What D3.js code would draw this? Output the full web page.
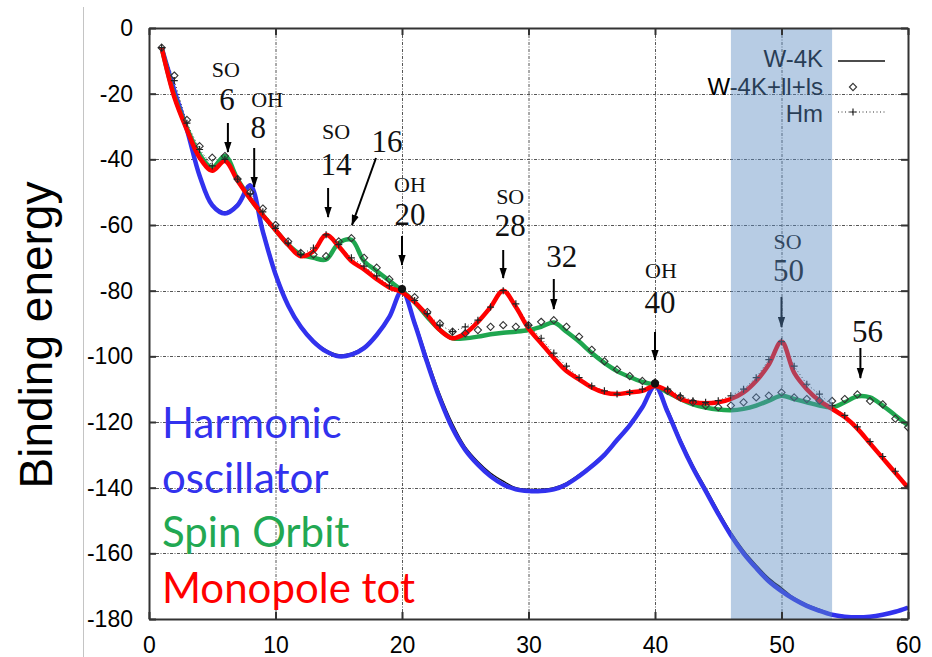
<!DOCTYPE html>
<html><head><meta charset="utf-8">
<script src="https://cdn.jsdelivr.net/npm/d3@7"></script>
<style>body{margin:0;background:#fff}</style>
</head><body>
<svg id="chart" width="932" height="657"></svg>
<script>
// ---------------- data ----------------
const nucleons = d3.range(1, 61);
const harmonic = [-6,-19,-31,-45,-54,-56.5,-54,-48,-62,-75,
  -84.5,-91,-95.5,-98.5,-100,-99.5,-97.5,-93.5,-88,-80,
  -90,-102,-113,-122,-128.5,-133,-136.5,-139,-140.5,-141,
  -141,-140.5,-139,-136.5,-133.5,-130,-125.5,-121,-115.5,-109,
  -117,-126,-134,-141,-148,-154.5,-160,-164.5,-168.5,-171.5,
  -174,-176,-177.5,-178.7,-179.3,-179.5,-179.3,-178.7,-177.8,-176.5];
const w4k = [-6,-18.5,-30.5,-44.5,-53.5,-56,-53.5,-47.5,-61,-74,
  -84,-90.5,-95,-98,-99.5,-99,-97,-93,-87.5,-79.5,
  -89,-100.5,-111.5,-120.5,-127.5,-132,-135.5,-138,-140,-140.5,
  -140.5,-140,-138.5,-136,-133,-129.5,-125,-120.5,-115,-108.5,
  -116,-125,-133,-140,-147,-153.5,-159,-163.5,-167.5,-170.5,
  -173.5,-175.5,-177,-178.5,-179,-179.3,-179.2,-178.6,-177.7,-176.4];
const spinOrbit = [-6,-20.5,-30.5,-38.5,-42.5,-39,-46,-52,-57,-61.5,
  -66,-69,-70,-70.5,-65.5,-64.5,-71,-74,-77,-80,
  -83.5,-88,-92,-94.5,-94.5,-94,-93.3,-92.8,-92.5,-92,
  -91,-89.7,-92.5,-95.5,-99,-102,-104.5,-106.3,-107.8,-108.8,
  -111,-113,-114.6,-115.6,-116.2,-116.4,-116,-115,-113.5,-112,
  -113,-114,-115,-115.5,-114,-112.2,-112.5,-115,-118,-121];
const monopole = [-6,-21,-31,-39.5,-43.5,-40.5,-46.5,-52,-57,-61.5,
  -66,-69.5,-68,-63,-66.5,-71,-73.5,-76.5,-79,-80.5,
  -83.5,-87.5,-92,-94.5,-93,-89.5,-85,-80,-85,-91.5,
  -96,-100.5,-104.5,-107,-109.5,-111,-111.5,-111,-110.5,-109,
  -110.5,-113,-114,-114.3,-114,-113,-111,-107.5,-102.5,-95.5,
  -105,-110,-113.5,-116,-118.5,-122,-126.5,-131,-135.5,-140];
const w4kLlLs = [-6,-14.5,-28,-36,-39.5,-39,-46,-50,-55,-60,
  -65,-68.5,-69,-69.5,-65,-64,-70,-73,-76.5,-79.5,
  -82,-86.5,-90,-92.5,-93,-92,-91,-90.5,-91,-90.5,
  -89.5,-89,-91,-94,-98,-101.5,-104,-106,-107.5,-108,
  -110.5,-112.5,-114,-115,-115.5,-115,-114,-112.5,-112,-111,
  -112.5,-113,-113.5,-113.6,-113,-111.6,-113.6,-114.6,-119,-121.6];
const hm = [-6,-16,-29,-37,-42,-40,-46,-50.5,-56,-61,
  -65.5,-69,-67,-63,-66,-70,-72.5,-75.5,-78.5,-79.5,
  -83,-87,-90.5,-92.5,-91,-89,-85,-80,-84,-90.5,
  -94.5,-99,-103,-106.5,-109,-110.5,-111.5,-111,-110,-108.5,
  -110,-112,-113.5,-114,-113.5,-112,-110,-106.5,-101,-95.5,
  -103,-108.5,-111.5,-115,-118,-121.5,-126,-130.5,-135,-139.5];
const magicDots = [20, 40];
const magicDotValues = [-79.5, -108.3];
const xTicks = [0, 10, 20, 30, 40, 50, 60];
const yTicks = [0, -20, -40, -60, -80, -100, -120, -140, -160, -180];
const bandRange = [46, 54];
const legendLabels = ["W-4K", "W-4K+ll+ls", "Hm"];
const modelLabels = ["Harmonic", "oscillator", "Spin Orbit", "Monopole tot"];
const axisTitle = "Binding energy";
// annotation text + layout (pixels)
const annotations = [
  {n:6,  head:"SO", num:"6",  adx:3, tip:152, len:29, numY:110, headY:77,  ndx:2,  hdx:1},
  {n:8,  head:"OH", num:"8",  adx:4, tip:187, len:39, numY:138, headY:107, ndx:8,  hdx:17},
  {n:14, head:"SO", num:"14", adx:2, tip:217, len:29, numY:175, headY:139, ndx:10, hdx:10},
  {n:20, head:"OH", num:"20", adx:0, tip:265, len:29, numY:225, headY:192, ndx:8,  hdx:8},
  {n:28, head:"SO", num:"28", adx:0, tip:278, len:28, numY:236, headY:204, ndx:7,  hdx:7},
  {n:32, head:"",   num:"32", adx:0, tip:309, len:30, numY:267, headY:0,   ndx:8,  hdx:0},
  {n:40, head:"OH", num:"40", adx:0, tip:360, len:28, numY:313, headY:278, ndx:5,  hdx:6},
  {n:50, head:"SO", num:"50", adx:0, tip:327, len:30, numY:281, headY:249, ndx:7,  hdx:6},
  {n:56, head:"",   num:"56", adx:3, tip:378, len:30, numY:342, headY:0,   ndx:10, hdx:0}
];
const diagLabel = {num:"16", cx:387, y:152, x1:376, y1:158, x2:352, y2:225};

// ---------------- layout ----------------
const L = 149, R = 908, T = 28, B = 619;
const svg = d3.select("#chart");
const x = d3.scaleLinear().domain([0, 60]).range([L, R]);
const y = d3.scaleLinear().domain([0, -180]).range([T, B]);

const COL_BLUE = "#3232ee", COL_GREEN = "#1fa64f", COL_RED = "#ff0000";

svg.append("defs").html(
  '<clipPath id="clip"><rect x="'+L+'" y="'+T+'" width="'+(R-L)+'" height="'+(B-T)+'"/></clipPath>'+
  '<marker id="ah" viewBox="0 0 12 8" refX="11" refY="4" markerWidth="11" markerHeight="8" orient="auto" markerUnits="userSpaceOnUse"><path d="M0,0 L12,4 L0,8 z" fill="#000"/></marker>');

// border line of the slide picture
svg.append("line").attr("x1", 83.5).attr("x2", 83.5).attr("y1", 7).attr("y2", 657)
  .attr("stroke", "#c4c4c4").attr("stroke-width", 1);

// grid
const grid = svg.append("g").attr("stroke", "#555").attr("stroke-width", 1)
  .attr("stroke-dasharray", "3,1.5,1,1.5");
grid.selectAll(".gx").data(xTicks.slice(1, -1)).join("line")
  .attr("x1", d => x(d) + 0.5).attr("x2", d => x(d) + 0.5).attr("y1", T).attr("y2", B);
grid.selectAll(".gy").data(yTicks.slice(1, -1)).join("line")
  .attr("y1", d => Math.round(y(d)) + 0.5).attr("y2", d => Math.round(y(d)) + 0.5).attr("x1", L).attr("x2", R);

const plot = svg.append("g").attr("clip-path", "url(#clip)");
const pts = arr => arr.map((v, i) => [nucleons[i], v]);
const lineSmooth = d3.line().x(d => x(d[0])).y(d => y(d[1])).curve(d3.curveCatmullRom.alpha(0.5));
const lineLin = d3.line().x(d => x(d[0])).y(d => y(d[1]));

// Hm dotted line
plot.append("path").attr("d", lineLin(pts(hm))).attr("fill", "none")
  .attr("stroke", "#333").attr("stroke-width", 1).attr("stroke-dasharray", "1,2.5");
// W-4K thin black
plot.append("path").attr("d", lineSmooth(pts(w4k))).attr("fill", "none")
  .attr("stroke", "#111").attr("stroke-width", 1.3);

// thick model curves
plot.append("path").attr("d", lineSmooth(pts(harmonic))).attr("fill", "none")
  .attr("stroke", COL_BLUE).attr("stroke-width", 4.5).attr("stroke-linejoin", "round");
plot.append("path").attr("d", lineSmooth(pts(spinOrbit))).attr("fill", "none")
  .attr("stroke", COL_GREEN).attr("stroke-width", 4.5).attr("stroke-linejoin", "round");
plot.append("path").attr("d", lineSmooth(pts(monopole))).attr("fill", "none")
  .attr("stroke", COL_RED).attr("stroke-width", 4.5).attr("stroke-linejoin", "round");

// markers
const diamondPath = "M0,-3.6L3.6,0L0,3.6L-3.6,0Z";
plot.selectAll(".dia").data(pts(w4kLlLs)).join("path")
  .attr("d", diamondPath).attr("transform", d => `translate(${x(d[0])},${y(d[1])})`)
  .attr("fill", "none").attr("stroke", "#333").attr("stroke-width", 1.1);
plot.selectAll(".plus").data(pts(hm)).join("path")
  .attr("d", "M-3.5,0H3.5M0,-3.5V3.5").attr("transform", d => `translate(${x(d[0])},${y(d[1])})`)
  .attr("fill", "none").attr("stroke", "#222").attr("stroke-width", 1.2);
plot.selectAll(".dot").data(magicDots.map((n, i) => [n, magicDotValues[i]])).join("circle")
  .attr("cx", d => x(d[0])).attr("cy", d => y(d[1])).attr("r", 4).attr("fill", "#111");

// annotations
const ann = svg.append("g").attr("font-family", "'Liberation Serif', 'Times New Roman', serif").attr("fill", "#111");
annotations.forEach(a => {
  const ax = x(a.n) + a.adx;
  ann.append("line").attr("x1", ax).attr("x2", ax).attr("y1", a.tip - a.len).attr("y2", a.tip)
    .attr("stroke", "#000").attr("stroke-width", 2).attr("marker-end", "url(#ah)");
  ann.append("text").attr("x", x(a.n) + a.ndx).attr("y", a.numY).attr("text-anchor", "middle")
    .attr("font-size", 31).text(a.num);
  if (a.head) ann.append("text").attr("x", x(a.n) + a.hdx).attr("y", a.headY).attr("text-anchor", "middle")
    .attr("font-size", 22).text(a.head);
});
ann.append("line").attr("x1", diagLabel.x1).attr("y1", diagLabel.y1).attr("x2", diagLabel.x2).attr("y2", diagLabel.y2)
  .attr("stroke", "#000").attr("stroke-width", 2).attr("marker-end", "url(#ah)");
ann.append("text").attr("x", diagLabel.cx).attr("y", diagLabel.y).attr("text-anchor", "middle")
  .attr("font-size", 31).text(diagLabel.num);

// model labels
const modelColors = [COL_BLUE, COL_BLUE, "#22a852", COL_RED];
const modelBase = [438, 493, 547, 603];
svg.append("g").selectAll("text").data(modelLabels).join("text")
  .attr("x", 162).attr("y", (d, i) => modelBase[i])
  .attr("font-family", "Lato, 'Open Sans', sans-serif").attr("font-size", 42)
  .attr("fill", (d, i) => modelColors[i]).text(d => d);

// legend
const lg = svg.append("g").attr("font-family", "'Liberation Sans', Arial, sans-serif").attr("font-size", 24).attr("fill", "#000");
const legBase = [67, 95, 122];
lg.selectAll("text").data(legendLabels).join("text")
  .attr("x", 823).attr("y", (d, i) => legBase[i]).attr("text-anchor", "end").text(d => d);
lg.append("line").attr("x1", 838).attr("x2", 885).attr("y1", 61).attr("y2", 61).attr("stroke", "#111").attr("stroke-width", 1.5);
lg.append("path").attr("d", diamondPath).attr("transform", "translate(853,87)")
  .attr("fill", "none").attr("stroke", "#333").attr("stroke-width", 1.1);
lg.append("line").attr("x1", 838).attr("x2", 885).attr("y1", 112).attr("y2", 112).attr("stroke", "#333")
  .attr("stroke-width", 1).attr("stroke-dasharray", "1,2.5");
lg.append("path").attr("d", "M-3.5,0H3.5M0,-3.5V3.5").attr("transform", "translate(853,112)")
  .attr("fill", "none").attr("stroke", "#222").attr("stroke-width", 1.2);

// shaded band (overlay)
svg.append("rect").attr("x", x(bandRange[0])).attr("y", T).attr("width", x(bandRange[1]) - x(bandRange[0]))
  .attr("height", B - T).attr("fill", "rgb(92,138,193)").attr("fill-opacity", 0.44);

// axes
const tickFont = g => g.selectAll("text").attr("font-family", "'Liberation Sans', Arial, sans-serif")
  .attr("font-size", 23).attr("fill", "#000");
const styleAxis = g => { g.select(".domain").attr("stroke", "#333").attr("stroke-width", 2);
  g.selectAll(".tick line").attr("stroke", "#333").attr("stroke-width", 2); };
svg.append("g").attr("transform", `translate(${L},0)`)
  .call(d3.axisLeft(y).tickValues(yTicks).tickSize(-7).tickSizeOuter(0).tickPadding(16).tickFormat(d => String(d)))
  .call(tickFont).call(styleAxis);
svg.append("g").attr("transform", `translate(0,${B})`)
  .call(d3.axisBottom(x).tickValues(xTicks).tickSize(-7).tickSizeOuter(0).tickPadding(18).tickFormat(d => String(d)))
  .call(tickFont).call(styleAxis);
svg.append("g").attr("transform", `translate(0,${T})`)
  .call(d3.axisTop(x).tickValues(xTicks).tickSize(-7).tickSizeOuter(0).tickFormat(""))
  .call(styleAxis);
svg.append("g").attr("transform", `translate(${R},0)`)
  .call(d3.axisRight(y).tickValues(yTicks).tickSize(-7).tickSizeOuter(0).tickFormat(""))
  .call(styleAxis);

// y axis title
svg.append("text").attr("transform", "translate(52,335) rotate(-90)").attr("text-anchor", "middle")
  .attr("font-family", "'Liberation Sans', Arial, sans-serif").attr("font-size", 46).attr("fill", "#000")
  .text(axisTitle);
</script>
</body></html>
